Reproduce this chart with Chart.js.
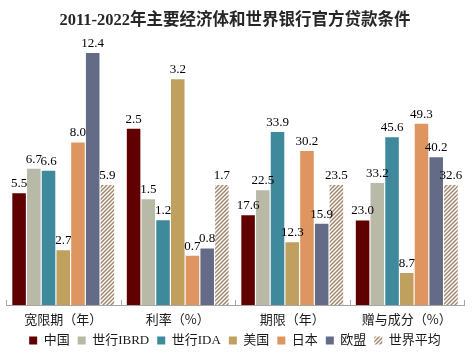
<!DOCTYPE html>
<html><head><meta charset="utf-8">
<script src="https://cdn.jsdelivr.net/npm/chart.js@4.4.1/dist/chart.umd.min.js"></script>
<style>html,body{margin:0;padding:0;background:#fff}#wrap{width:472px;height:355px;position:relative}</style>
</head><body><div id="wrap"><canvas id="c" width="472" height="355"></canvas></div>
<script>
const categories = ['宽限期（年）', '利率（%）', '期限（年）', '赠与成分（%）'];
const seriesNames = ['中国', '世行IBRD', '世行IDA', '美国', '日本', '欧盟', '世界平均'];
const china = [5.5, 2.5, 17.6, 23.0];
const ibrd  = [6.7, 1.5, 22.5, 33.2];
const ida   = [6.6, 1.2, 33.9, 45.6];
const usa   = [2.7, 3.2, 12.3, 8.7];
const japan = [8.0, 0.7, 30.2, 49.3];
const eu    = [12.4, 0.8, 15.9, 40.2];
const world = [5.9, 1.7, 23.5, 32.6];
const seriesValues = [china, ibrd, ida, usa, japan, eu, world];

// hatch pattern for world average
const pc = document.createElement('canvas');
pc.width = 4; pc.height = 4;
const px = pc.getContext('2d');
px.fillStyle = '#ffffff'; px.fillRect(0,0,4,4);
px.strokeStyle = '#a2876d'; px.lineWidth = 1.5;
px.beginPath();
px.moveTo(-1,5); px.lineTo(5,-1);
px.moveTo(-1,1); px.lineTo(1,-1);
px.moveTo(3,5); px.lineTo(5,3);
px.stroke();
const hatch = document.getElementById('c').getContext('2d').createPattern(pc, 'repeat');

const colors = ['#600000', '#b9b9a8', '#3e899b', '#c0a05e', '#de955f', '#646b86', hatch];

const K = 2.22; // each group's axis scaled so world-average bars share a height
const datasets = [];
seriesValues.forEach((vals, s) => {
  categories.forEach((cat, g) => {
    datasets.push({
      label: seriesNames[s],
      data: categories.map((_, i) => i === g ? vals[i] : null),
      backgroundColor: colors[s],
      borderWidth: 0,
      yAxisID: 'y' + g,
      skipNull: true,
      barPercentage: 0.92,
      categoryPercentage: 0.9
    });
  });
});

const scales = {
  x: {
    offset: true,
    grid: { display: false },
    border: { display: true, color: '#a6a6a6', width: 1 },
    ticks: { color: '#1a1a1a', padding: 0, font: { family: '"Noto Sans CJK SC"', size: 13, lineHeight: 1.0 } }
  }
};
categories.forEach((c, g) => {
  scales['y' + g] = { display: false, min: 0, max: world[g] * K };
});

const labelPlugin = {
  id: 'vals',
  afterDatasetsDraw(chart) {
    const ctx = chart.ctx;
    ctx.save();
    ctx.font = '13px "Liberation Serif"';
    ctx.fillStyle = '#000';
    ctx.textAlign = 'center';
    ctx.textBaseline = 'bottom';
    chart.data.datasets.forEach((ds, di) => {
      const meta = chart.getDatasetMeta(di);
      meta.data.forEach((el, i) => {
        const v = ds.data[i];
        if (v === null || v === undefined) return;
        ctx.fillText(v.toFixed(1), el.x, el.y - 3);
      });
    });
    // small boundary ticks on the category axis
    const xs = chart.scales.x;
    const ya = xs.top;
    ctx.strokeStyle = '#a6a6a6';
    ctx.lineWidth = 1;
    const n = categories.length;
    for (let i = 0; i <= n; i++) {
      const xp = Math.round(xs.left + (xs.right - xs.left) * i / n) + 0.5;
      ctx.beginPath(); ctx.moveTo(xp, ya - 5); ctx.lineTo(xp, ya); ctx.stroke();
    }
    ctx.restore();
  }
};

new Chart(document.getElementById('c'), {
  type: 'bar',
  data: { labels: categories, datasets },
  options: {
    responsive: false,
    animation: false,
    layout: { padding: { left: 6, right: 8, top: 0, bottom: -2 } },
    scales,
    plugins: {
      tooltip: { enabled: false },
      title: {
        display: true,
        text: '2011-2022年主要经济体和世界银行官方贷款条件',
        color: '#262626',
        font: { family: '"Liberation Serif", "Noto Sans CJK SC"', size: 16.5, weight: 'bold' },
        padding: { top: 11, bottom: 8 }
      },
      legend: {
        position: 'bottom',
        labels: {
          filter: (item) => item.datasetIndex % categories.length === 0,
          boxWidth: 8, boxHeight: 8, padding: 8,
          color: '#1a1a1a',
          font: { family: '"Liberation Serif", "Noto Sans CJK SC"', size: 13 }
        }
      }
    }
  },
  plugins: [labelPlugin]
});
</script></body></html>
